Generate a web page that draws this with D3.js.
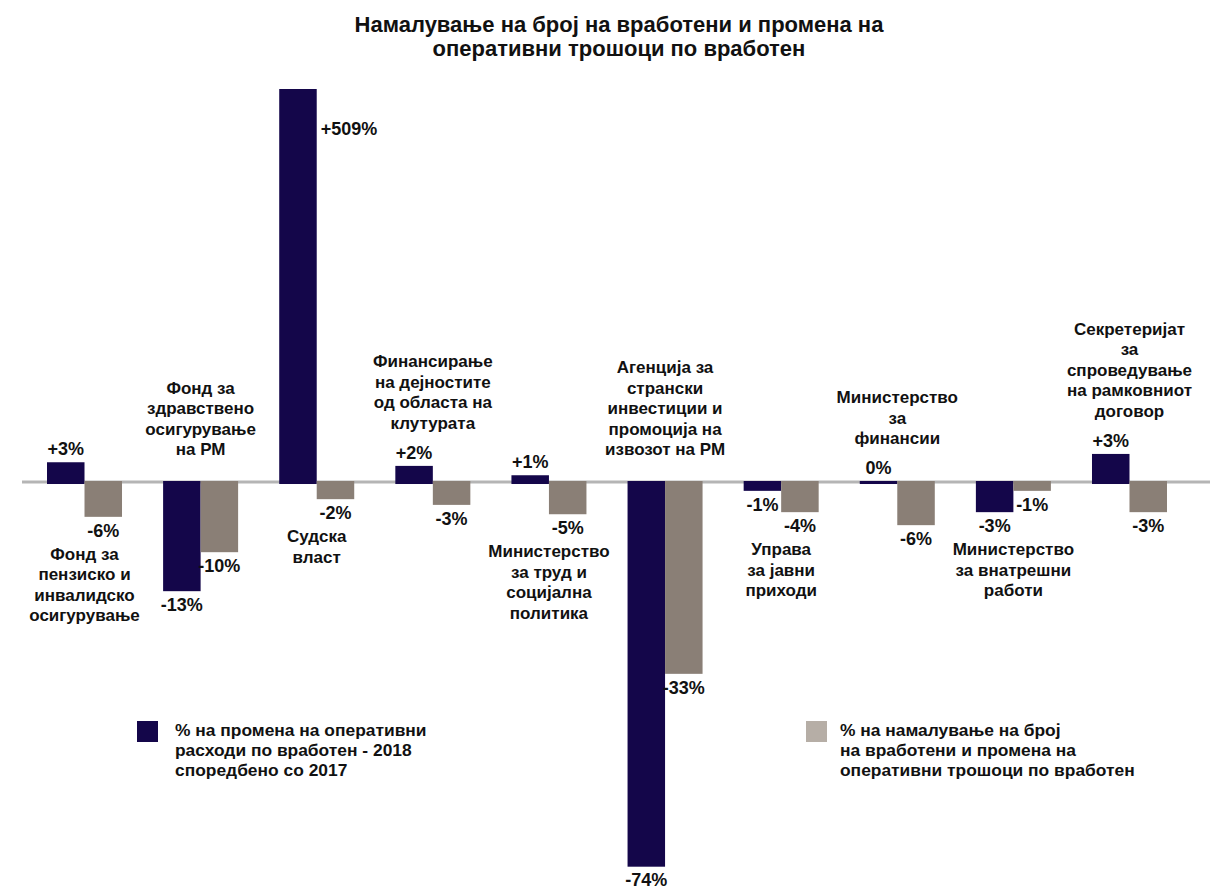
<!DOCTYPE html>
<html>
<head>
<meta charset="utf-8">
<script src="https://cdn.jsdelivr.net/npm/d3@7"></script>
<style>
  html, body { margin: 0; padding: 0; background: #ffffff; }
  svg { display: block; font-family: "Liberation Sans", Arial, sans-serif; font-weight: bold; }
</style>
</head>
<body>
<script>
// ---------- data ----------
const titleLines = ["Намалување на број на вработени и промена на", "оперативни трошоци по вработен"];

const categories = [
  "Фонд за\nпензиско и\nинвалидско\nосигурување",
  "Фонд за\nздравствено\nосигурување\nна РМ",
  "Судска\nвласт",
  "Финансирање\nна дејностите\nод областа на\nклутурата",
  "Министерство\nза труд и\nсоцијална\nполитика",
  "Агенција за\nстрански\nинвестиции и\nпромоција на\nизвозот на РМ",
  "Управа\nза јавни\nприходи",
  "Министерство\nза\nфинансии",
  "Министерство\nза внатрешни\nработи",
  "Секретеријат\nза\nспроведување\nна рамковниот\nдоговор"
];

// values printed on the chart (%)
const darkValues = [3, -13, 509, 2, 1, -74, -1, 0, -3, 3];
const grayValues = [-6, -10, -2, -3, -5, -33, -4, -6, -1, -3];

// bar lengths as drawn in the reference (the original is not drawn to scale;
// the +509% bar is cut off at the top of the plot)
const darkDrawn = [3.8, -21.0, 509, 3.1, 1.3, -74, -1.7, 0, -5.8, 5.4];
const grayDrawn = [-6.7, -13.5, -3.3, -4.4, -6.2, -36.9, -5.8, -8.3, -1.7, -5.8];

const seriesNames = [
  "% на промена на оперативни\nрасходи по вработен - 2018\nспоредбено со 2017",
  "% на намалување на број\nна вработени и промена на\nоперативни трошоци по вработен"
];

// ---------- styles ----------
const darkColor = "#14064a";
const grayColor = "#8a7f76";
const grayLegendColor = "#b6aea6";
const textColor = "#111111";

const W = 1212, H = 889;
const svg = d3.select("body").append("svg").attr("width", W).attr("height", H);

const idx = d3.range(categories.length);
const x = d3.scaleBand().domain(idx).range([47, 1167]).paddingInner(0.354).paddingOuter(0);
const xs = d3.scaleBand().domain(["dark", "gray"]).range([0, x.bandwidth()]);
const y = d3.scaleLinear().domain([-74, 75.6]).range([866.7, 89]).clamp(true);
const y0 = y(0);

// title
svg.append("g").selectAll("text").data(titleLines).join("text")
  .attr("x", 619).attr("y", (d, i) => 32 + i * 23.5)
  .attr("text-anchor", "middle").attr("font-size", 22).attr("fill", textColor)
  .text(d => d);

// baseline
svg.append("line").attr("x1", 22).attr("x2", 1210).attr("y1", y0).attr("y2", y0)
  .attr("stroke", "#b5b5b5").attr("stroke-width", 3);

const series = [
  { key: "dark", drawn: darkDrawn, values: darkValues, color: darkColor },
  { key: "gray", drawn: grayDrawn, values: grayValues, color: grayColor }
];

const fmt = v => (v > 0 ? "+" : "") + v + "%";
const labelBaselines = idx.map(() => ({ pos: [], neg: [] }));

series.forEach(s => {
  const g = svg.append("g");
  s.drawn.forEach((v, i) => {
    const bx = x(i) + xs(s.key);
    const bw = xs.bandwidth();
    const yv = y(v);
    let top, bottom;
    if (v > 0) { top = yv; bottom = y0 + 2; }
    else if (v < 0) { top = y0 - 1; bottom = yv; }
    else { top = y0 - 1; bottom = y0 + 2; }
    g.append("rect").attr("x", bx).attr("y", top).attr("width", bw).attr("height", bottom - top)
      .attr("fill", s.color);

    const label = fmt(s.values[i]);
    if (v > y.domain()[1]) {
      // clipped bar: label beside the bar
      g.append("text").attr("x", bx + bw + 4).attr("y", top + 46)
        .attr("font-size", 18).attr("fill", textColor).text(label);
    } else if (v >= 0) {
      const ly = top - 7;
      labelBaselines[i].pos.push(ly);
      g.append("text").attr("x", bx + bw / 2).attr("y", ly).attr("text-anchor", "middle")
        .attr("font-size", 18).attr("fill", textColor).text(label);
    } else {
      const ly = Math.min(bottom + 20, H - 3);
      labelBaselines[i].neg.push(ly);
      g.append("text").attr("x", bx + bw / 2).attr("y", ly).attr("text-anchor", "middle")
        .attr("font-size", 18).attr("fill", textColor).text(label);
    }
  });
});

// category labels, alternating below / above the bars
const lh = 20.5;
const catG = svg.append("g");
categories.forEach((c, i) => {
  const lines = c.split("\n");
  const cx = x(i) + x.bandwidth() / 2;
  let firstBaseline;
  if (i % 2 === 0) {
    firstBaseline = d3.max(labelBaselines[i].neg) + 23;
  } else {
    const ref = labelBaselines[i].pos.length ? d3.min(labelBaselines[i].pos) : y0 + 3;
    const last = ref - 30;
    firstBaseline = last - (lines.length - 1) * lh;
  }
  catG.append("g").selectAll("text").data(lines).join("text")
    .attr("x", cx).attr("y", (d, k) => firstBaseline + k * lh)
    .attr("text-anchor", "middle").attr("font-size", 17).attr("fill", textColor)
    .text(d => d);
});

// legend
const legendItems = [
  { name: seriesNames[0], color: darkColor, sx: 137, tx: 175 },
  { name: seriesNames[1], color: grayLegendColor, sx: 806, tx: 840 }
];
legendItems.forEach(it => {
  const g = svg.append("g");
  g.append("rect").attr("x", it.sx).attr("y", 721).attr("width", 21).attr("height", 21).attr("fill", it.color);
  g.selectAll("text").data(it.name.split("\n")).join("text")
    .attr("x", it.tx).attr("y", (d, k) => 736 + k * 20)
    .attr("font-size", 17.4).attr("fill", textColor).text(d => d);
});
</script>
</body>
</html>
